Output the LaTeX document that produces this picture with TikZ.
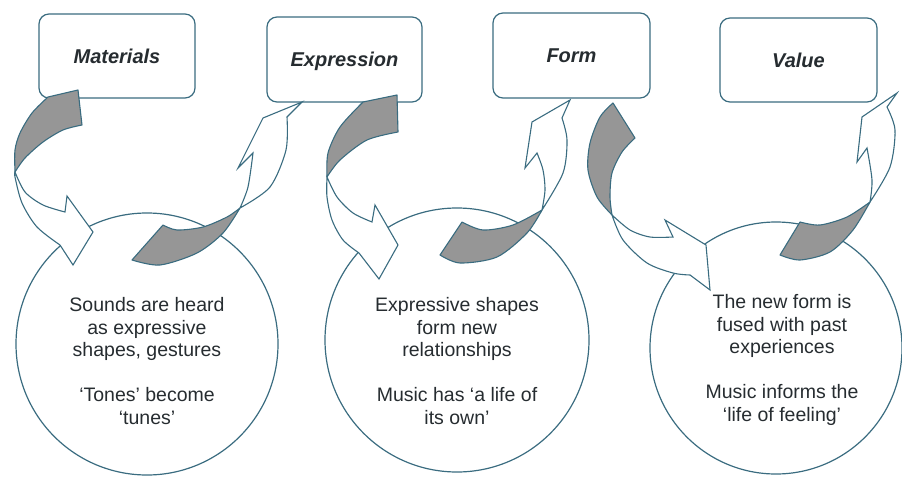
\documentclass[tikz,border=0pt]{standalone}
\usepackage{fontspec}
\setmainfont{Liberation Sans}
\usepackage{tikz}
\definecolor{bordure}{RGB}{58,108,128}
\definecolor{ruban}{RGB}{150,150,150}
\definecolor{encre}{RGB}{38,44,48}
\tikzset{
	etape/.style={draw=bordure,line width=1.2pt,rounded corners=10pt,inner sep=0pt,text=encre,text height=14pt,text depth=0pt,font=\fontsize{20}{22}\selectfont\bfseries\itshape},
	rond/.style={draw=bordure,line width=1.2pt,circle,inner sep=0pt},
	texte/.style={align=center,text=encre,font=\fontsize{19.5}{22.5}\selectfont},
	dos/.style={draw=bordure,fill=ruban,line width=1.1pt,line join=round},
	face/.style={draw=bordure,fill=white,line width=1.1pt,line join=miter}
}

\begin{document}
\begin{tikzpicture}[x=1pt,y=-1pt]
	\useasboundingbox (0,0) rectangle (902,479);
	% boites
	\node[etape,minimum width=156pt,minimum height=84pt] (materiaux) at (117,56) {Materials};
	\node[etape,minimum width=155pt,minimum height=85pt] (expression) at (344.5,59.5) {Expression};
	\node[etape,minimum width=157pt,minimum height=85pt] (forme) at (571.5,55.5) {Form};
	\node[etape,minimum width=157pt,minimum height=84pt] (valeur) at (798.5,60) {Value};
	
	% cercles
	\node[rond,minimum size=262pt] (c1) at (147,344) {};
	\node[rond,minimum size=264pt] (c2) at (457,340) {};
	\node[rond,minimum size=252pt] (c3) at (776,348) {};
	
	% textes
	\node[texte] (t1) at (147,361) {Sounds are heard\\as expressive\\shapes, gestures\\[22.5pt]‘Tones’ become\\‘tunes’};
	\node[texte] (t2) at (457,361) {Expressive shapes\\form new\\relationships\\[22.5pt]Music has ‘a life of\\its own’};
	\node[texte] (t3) at (782,360) {The new form is\\fused with past\\experiences\\[22.5pt]Music informs the\\‘life of feeling’};
	
	% Materials -> cercle 1
	\draw[dos] (48,97) -- (78,90) -- (82,125)
		-- plot[smooth] coordinates {(82,125) (63,130) (43,142) (25,158) (15,172)}
		-- plot[smooth] coordinates {(15,172) (15,150) (20,133) (32,113) (48,97)} -- cycle;
	\draw[face] plot[smooth] coordinates {(15,172) (25,192) (43,205) (65,212)}
		-- (67,196) -- (93,232) -- (73,265) -- (60,245)
		-- plot[smooth] coordinates {(60,245) (37,227) (22,203) (15,177) (15,172)} -- cycle;
	
	% cercle 1 -> Expression
	\draw[dos] (132,260) -- (163,225)
		-- plot[smooth] coordinates {(163,225) (177,230) (203,227) (227,217) (240,208)}
		-- plot[smooth] coordinates {(240,208) (223,233) (197,253) (160,265) (132,260)} -- cycle;
	\draw[face] plot[smooth] coordinates {(240,208) (248,187) (253,153)}
		-- (238,168) -- (263,118) -- (302,102) -- (287,117)
		-- plot[smooth] coordinates {(287,117) (286,150) (270,187) (240,208)} -- cycle;
	
	% Expression -> cercle 2
	\draw[dos] (363,102) -- (397,95) -- (398,132)
		-- plot[smooth] coordinates {(398,132) (367,140) (340,160) (327,177)}
		-- plot[smooth] coordinates {(327,177) (328,153) (340,127) (363,102)} -- cycle;
	\draw[face] plot[smooth] coordinates {(327,177) (337,197) (353,213) (372,222)}
		-- (375,205) -- (398,245) -- (379,279) -- (359,253)
		-- plot[smooth] coordinates {(359,253) (343,240) (332,220) (327,197) (327,177)} -- cycle;
	
	% cercle 2 -> Form
	\draw[dos] (440,255) -- (462,222)
		-- plot[smooth] coordinates {(462,222) (483,230) (513,225) (542,210)}
		-- plot[smooth] coordinates {(542,210) (527,233) (497,257) (460,263) (440,255)} -- cycle;
	\draw[face] plot[smooth] coordinates {(542,210) (545,190) (543,170) (537,153)}
		-- (525,168) -- (532,122) -- (570,100) -- (562,118)
		-- plot[smooth] coordinates {(562,118) (567,140) (563,173) (542,210)} -- cycle;
	
	% Form -> cercle 3
	\draw[dos] (613,103) -- (635,138)
		-- plot[smooth] coordinates {(635,138) (622,152) (612,173) (610,197) (612,215)}
		-- plot[smooth] coordinates {(612,215) (597,197) (588,170) (590,143) (600,117) (613,103)} -- cycle;
	\draw[face] plot[smooth] coordinates {(612,215) (630,230) (650,237) (673,237)}
		-- (665,220) -- (706,245) -- (710,290) -- (690,275)
		-- plot[smooth] coordinates {(690,275) (673,273) (647,263) (623,240) (612,215)} -- cycle;
	
	% cercle 3 -> Value
	\draw[dos] (780,255) -- (800,222)
		-- plot[smooth] coordinates {(800,222) (820,225) (847,217) (870,202)}
		-- plot[smooth] coordinates {(870,202) (853,230) (830,252) (800,260) (780,255)} -- cycle;
	\draw[face] plot[smooth] coordinates {(870,202) (872,180) (867,148)}
		-- (857,162) -- (862,117) -- (897,93) -- (887,107)
		-- plot[smooth] coordinates {(887,107) (895,130) (890,167) (870,202)} -- cycle;
\end{tikzpicture}
\end{document}
